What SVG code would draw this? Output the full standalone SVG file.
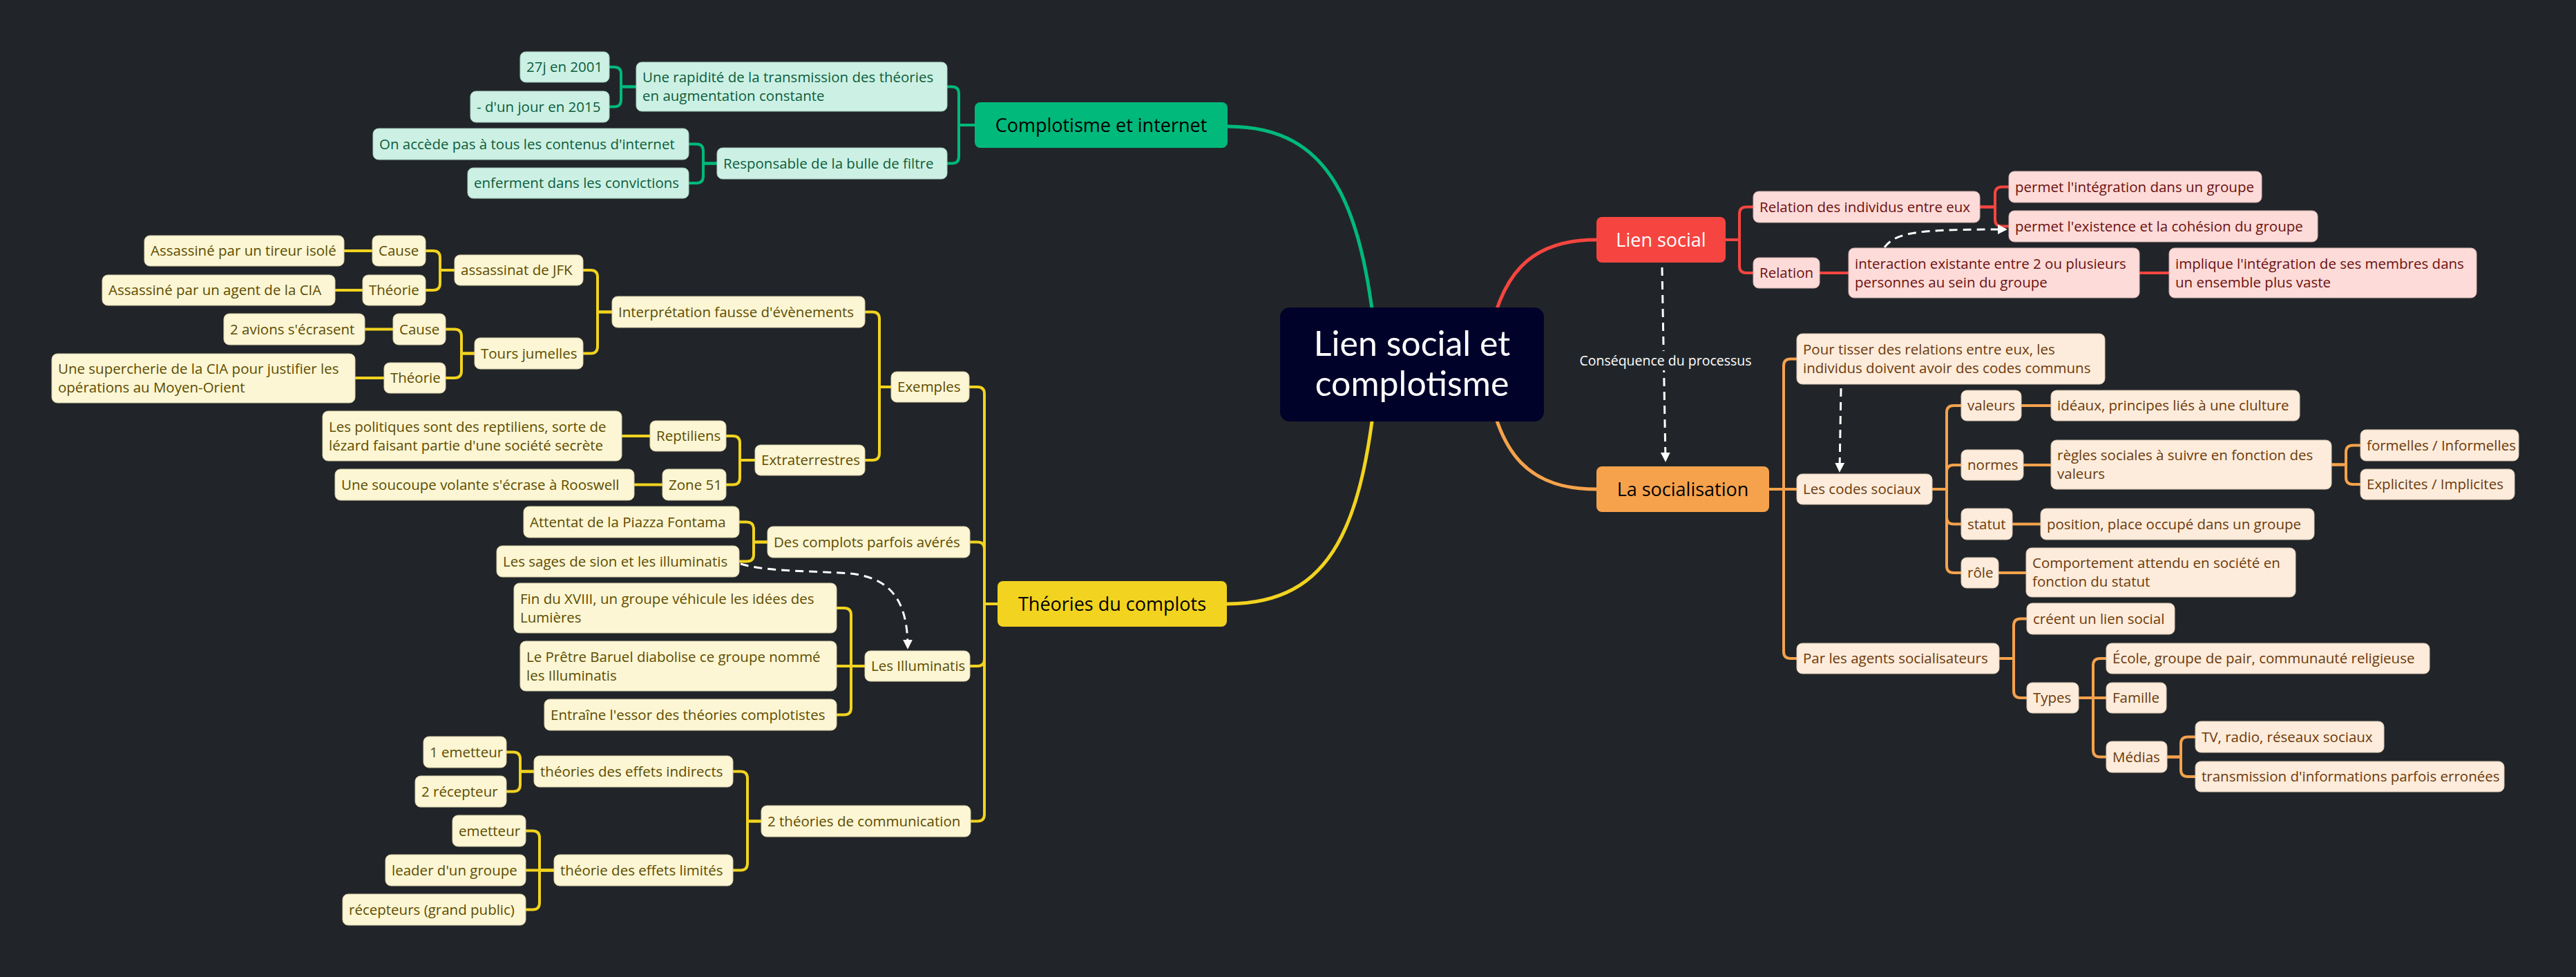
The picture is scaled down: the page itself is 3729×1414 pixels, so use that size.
<svg xmlns="http://www.w3.org/2000/svg" width="3729" height="1414" viewBox="0 0 3729 1414">
<defs>
<style>
.bg{fill:#212529}
text{font-family:"Open Sans",Lato,"Liberation Sans",sans-serif}
.t{font-size:20.5px}
.m{font-size:27px;text-anchor:middle}
.c{fill:none;stroke-width:4;stroke-linejoin:round}
.cg{stroke:#00b97b}.cy{stroke:#f2d31f}.cr{stroke:#f64540}.co{stroke:#f6a24c}
.main{fill:none;stroke-width:5}
.dash{fill:none;stroke:#ffffff;stroke-width:3;stroke-dasharray:12 8}
.ng rect{fill:#ccf1e4;stroke:#a9cdbf;stroke-width:1}
.ng text{fill:#0d5c3c}
.ny rect{fill:#fdf6d4;stroke:#d7cfa9;stroke-width:1}
.ny text{fill:#5c4c00}
.nr rect{fill:#fddbd8;stroke:#d6b3b0;stroke-width:1}
.nr text{fill:#6a1010}
.no rect{fill:#fdecdb;stroke:#d8c4b2;stroke-width:1}
.no text{fill:#6b3a0c}
</style>
<marker id="ah" viewBox="0 0 10 10" refX="8" refY="5" markerWidth="14" markerHeight="14" markerUnits="userSpaceOnUse" orient="auto">
<path d="M0,0 L10,5 L0,10 Z" fill="#ffffff"/>
</marker>
</defs>
<rect class="bg" x="0" y="0" width="3729" height="1414"/>

<g id="connectors">
<path class="main cg" d="M1777 183 C1930 183 1975 300 1995 528"/>
<path class="main cy" d="M1776 874 C1930 874 1975 760 1995 528"/>
<path class="main cr" d="M2311 347 C2220 347 2165 390 2150 528"/>
<path class="main co" d="M2311 708 C2220 708 2165 666 2150 528"/>

<path class="c cg" d="M1411 181 H1388 V135.5 Q1388 125.5 1378 125.5 H1371"/>
<path class="c cg" d="M1411 181 H1388 V226.5 Q1388 236.5 1378 236.5 H1371"/>
<path class="c cg" d="M921 125.5 H899 V107 Q899 97 889 97 H882"/>
<path class="c cg" d="M921 125.5 H899 V144.5 Q899 154.5 889 154.5 H882"/>
<path class="c cg" d="M1038 236.5 H1018 V218.5 Q1018 208.5 1008 208.5 H997"/>
<path class="c cg" d="M1038 236.5 H1018 V255 Q1018 265 1008 265 H997"/>

<path class="c cy" d="M1444 874 H1425 V570 Q1425 560 1415 560 H1403"/>
<path class="c cy" d="M1444 874 H1425 V794.5 Q1425 784.5 1415 784.5 H1404"/>
<path class="c cy" d="M1444 874 H1425 V954 Q1425 964 1415 964 H1404"/>
<path class="c cy" d="M1444 874 H1425 V1178.5 Q1425 1188.5 1415 1188.5 H1405"/>
<path class="c cy" d="M1290 560 H1273 V461.5 Q1273 451.5 1263 451.5 H1252"/>
<path class="c cy" d="M1290 560 H1273 V656 Q1273 666 1263 666 H1252"/>
<path class="c cy" d="M886 451.5 H865 V401 Q865 391 855 391 H844"/>
<path class="c cy" d="M886 451.5 H865 V501.5 Q865 511.5 855 511.5 H844"/>
<path class="c cy" d="M658 391 H637 V373 Q637 363 627 363 H616"/>
<path class="c cy" d="M658 391 H637 V410 Q637 420 627 420 H616"/>
<path class="c cy" d="M539 363 H498"/>
<path class="c cy" d="M525 420 H485"/>
<path class="c cy" d="M687 511.5 H668 V486.5 Q668 476.5 658 476.5 H645"/>
<path class="c cy" d="M687 511.5 H668 V537 Q668 547 658 547 H645"/>
<path class="c cy" d="M569 476.5 H528"/>
<path class="c cy" d="M556 547 H514"/>
<path class="c cy" d="M1093 666 H1071 V641 Q1071 631 1061 631 H1051"/>
<path class="c cy" d="M1093 666 H1071 V691.5 Q1071 701.5 1061 701.5 H1051"/>
<path class="c cy" d="M941 631 H900"/>
<path class="c cy" d="M959 701.5 H918"/>
<path class="c cy" d="M1111 784.5 H1091 V765.5 Q1091 755.5 1081 755.5 H1070"/>
<path class="c cy" d="M1111 784.5 H1091 V802.5 Q1091 812.5 1081 812.5 H1070"/>
<path class="c cy" d="M1252 964 H1232 V890 Q1232 880 1222 880 H1211"/>
<path class="c cy" d="M1252 964 H1211"/>
<path class="c cy" d="M1252 964 H1232 V1024.5 Q1232 1034.5 1222 1034.5 H1211"/>
<path class="c cy" d="M1102 1188.5 H1082 V1126.5 Q1082 1116.5 1072 1116.5 H1061"/>
<path class="c cy" d="M1102 1188.5 H1082 V1249.5 Q1082 1259.5 1072 1259.5 H1061"/>
<path class="c cy" d="M773 1116.5 H753 V1098.5 Q753 1088.5 743 1088.5 H733"/>
<path class="c cy" d="M773 1116.5 H753 V1135.5 Q753 1145.5 743 1145.5 H733"/>
<path class="c cy" d="M802 1259.5 H781 V1212.5 Q781 1202.5 771 1202.5 H761"/>
<path class="c cy" d="M802 1259.5 H761"/>
<path class="c cy" d="M802 1259.5 H781 V1306.5 Q781 1316.5 771 1316.5 H761"/>

<path class="c cr" d="M2498 347 H2518 V309.5 Q2518 299.5 2528 299.5 H2538"/>
<path class="c cr" d="M2498 347 H2518 V385 Q2518 395 2528 395 H2538"/>
<path class="c cr" d="M2866 299.5 H2888 V280.5 Q2888 270.5 2898 270.5 H2908"/>
<path class="c cr" d="M2866 299.5 H2888 V317.5 Q2888 327.5 2898 327.5 H2908"/>
<path class="c cr" d="M2634 395 H2676"/>
<path class="c cr" d="M3097 395 H3140"/>

<path class="c co" d="M2561 708 H2582 V529.5 Q2582 519.5 2592 519.5 H2601"/>
<path class="c co" d="M2561 708 H2601"/>
<path class="c co" d="M2561 708 H2582 V943 Q2582 953 2592 953 H2601"/>
<path class="c co" d="M2797 708 H2818 V597 Q2818 587 2828 587 H2839"/>
<path class="c co" d="M2797 708 H2818 V683 Q2818 673 2828 673 H2839"/>
<path class="c co" d="M2797 708 H2818 V748.5 Q2818 758.5 2828 758.5 H2839"/>
<path class="c co" d="M2797 708 H2818 V819 Q2818 829 2828 829 H2839"/>
<path class="c co" d="M2926 587 H2969"/>
<path class="c co" d="M2929 673 H2969"/>
<path class="c co" d="M3375 672.5 H3396 V654.5 Q3396 644.5 3406 644.5 H3417"/>
<path class="c co" d="M3375 672.5 H3396 V691 Q3396 701 3406 701 H3417"/>
<path class="c co" d="M2913 758.5 H2954"/>
<path class="c co" d="M2893 829 H2933"/>
<path class="c co" d="M2894 953 H2915 V905.5 Q2915 895.5 2925 895.5 H2934"/>
<path class="c co" d="M2894 953 H2915 V1000 Q2915 1010 2925 1010 H2934"/>
<path class="c co" d="M3009 1010 H3030 V963 Q3030 953 3040 953 H3049"/>
<path class="c co" d="M3009 1010 H3049"/>
<path class="c co" d="M3009 1010 H3030 V1085.5 Q3030 1095.5 3040 1095.5 H3049"/>
<path class="c co" d="M3137 1095.5 H3157 V1076.5 Q3157 1066.5 3167 1066.5 H3178"/>
<path class="c co" d="M3137 1095.5 H3157 V1114 Q3157 1124 3167 1124 H3178"/>

<path class="dash" d="M2406 387 L2411 666" marker-end="url(#ah)"/>
<path class="dash" d="M1072 816 C1110 828 1180 826 1230 830 C1290 836 1314 870 1314 937" marker-end="url(#ah)"/>
<path class="dash" d="M2728 358 C2745 335 2780 332 2903 332" marker-end="url(#ah)"/>
<path class="dash" d="M2665 562 L2663 681" marker-end="url(#ah)"/>
<g id="label-consequence">
<rect class="bg" x="2284" y="508" width="254" height="28"/>
<text x="2411" y="529" font-size="19.5" fill="#ffffff" text-anchor="middle">Conséquence du processus</text>
</g>
</g>

<g id="center">
<rect x="1853" y="445" width="382" height="165" rx="14" fill="#00022a"/>
<text x="2044" y="515" font-size="50" fill="#ffffff" text-anchor="middle" style="font-family:Lato,'Open Sans',sans-serif">Lien social et</text>
<text x="2044" y="573" font-size="50" fill="#ffffff" text-anchor="middle" style="font-family:Lato,'Open Sans',sans-serif">complotisme</text>
</g>

<g id="g1"><rect x="1411" y="148" width="366" height="66" rx="8" fill="#00b97b"/><text class="m" x="1594" y="190.5" fill="#000">Complotisme et internet</text></g>
<g class="ng">
<g id="g2"><rect x="921" y="90" width="450" height="71" rx="8"/><text class="t" x="930" y="119">Une rapidité de la transmission des théories<tspan x="930" y="146">en augmentation constante</tspan></text></g>
<g id="g3"><rect x="1038" y="214" width="333" height="45" rx="8"/><text class="t" x="1047" y="243.5">Responsable de la bulle de filtre</text></g>
<g id="g4"><rect x="753" y="75" width="129" height="44" rx="8"/><text class="t" x="762" y="104">27j en 2001</text></g>
<g id="g5"><rect x="681" y="132" width="201" height="45" rx="8"/><text class="t" x="690" y="161.5">- d'un jour en 2015</text></g>
<g id="g6"><rect x="540" y="186" width="457" height="45" rx="8"/><text class="t" x="549" y="215.5">On accède pas à tous les contenus d'internet</text></g>
<g id="g7"><rect x="677" y="243" width="320" height="44" rx="8"/><text class="t" x="686" y="272">enferment dans les convictions</text></g>
</g>

<g id="y1"><rect x="1444" y="841" width="332" height="66" rx="8" fill="#f2d31f"/><text class="m" x="1610" y="883.5" fill="#000">Théories du complots</text></g>
<g class="ny">
<g id="y2"><rect x="1290" y="538" width="113" height="44" rx="8"/><text class="t" x="1299" y="567">Exemples</text></g>
<g id="y3"><rect x="886" y="429" width="366" height="45" rx="8"/><text class="t" x="895" y="458.5">Interprétation fausse d'évènements</text></g>
<g id="y4"><rect x="1093" y="644" width="159" height="44" rx="8"/><text class="t" x="1102" y="673">Extraterrestres</text></g>
<g id="y5"><rect x="658" y="369" width="186" height="44" rx="8"/><text class="t" x="667" y="398">assassinat de JFK</text></g>
<g id="y6"><rect x="687" y="489" width="157" height="45" rx="8"/><text class="t" x="696" y="518.5">Tours jumelles</text></g>
<g id="y7"><rect x="539" y="341" width="77" height="44" rx="8"/><text class="t" x="548" y="370">Cause</text></g>
<g id="y8"><rect x="525" y="398" width="91" height="44" rx="8"/><text class="t" x="534" y="427">Théorie</text></g>
<g id="y9"><rect x="209" y="341" width="289" height="44" rx="8"/><text class="t" x="218" y="370">Assassiné par un tireur isolé</text></g>
<g id="y10"><rect x="148" y="398" width="337" height="44" rx="8"/><text class="t" x="157" y="427">Assassiné par un agent de la CIA</text></g>
<g id="y11"><rect x="569" y="454" width="76" height="45" rx="8"/><text class="t" x="578" y="483.5">Cause</text></g>
<g id="y12"><rect x="556" y="525" width="89" height="44" rx="8"/><text class="t" x="565" y="554">Théorie</text></g>
<g id="y13"><rect x="324" y="454" width="204" height="45" rx="8"/><text class="t" x="333" y="483.5">2 avions s'écrasent</text></g>
<g id="y14"><rect x="75" y="512" width="439" height="71" rx="8"/><text class="t" x="84" y="541">Une supercherie de la CIA pour justifier les<tspan x="84" y="568">opérations au Moyen-Orient</tspan></text></g>
<g id="y15"><rect x="941" y="609" width="110" height="44" rx="8"/><text class="t" x="950" y="638">Reptiliens</text></g>
<g id="y16"><rect x="959" y="679" width="92" height="45" rx="8"/><text class="t" x="968" y="708.5">Zone 51</text></g>
<g id="y17"><rect x="467" y="595" width="433" height="72" rx="8"/><text class="t" x="476" y="624.5">Les politiques sont des reptiliens, sorte de<tspan x="476" y="651.5">lézard faisant partie d'une société secrète</tspan></text></g>
<g id="y18"><rect x="485" y="679" width="433" height="45" rx="8"/><text class="t" x="494" y="708.5">Une soucoupe volante s'écrase à Rooswell</text></g>
<g id="y19"><rect x="1111" y="762" width="293" height="45" rx="8"/><text class="t" x="1120" y="791.5">Des complots parfois avérés</text></g>
<g id="y20"><rect x="758" y="733" width="312" height="45" rx="8"/><text class="t" x="767" y="762.5">Attentat de la Piazza Fontama</text></g>
<g id="y21"><rect x="719" y="790" width="351" height="45" rx="8"/><text class="t" x="728" y="819.5">Les sages de sion et les illuminatis</text></g>
<g id="y22"><rect x="1252" y="942" width="152" height="44" rx="8"/><text class="t" x="1261" y="971">Les Illuminatis</text></g>
<g id="y23"><rect x="744" y="844" width="467" height="72" rx="8"/><text class="t" x="753" y="873.5">Fin du XVIII, un groupe véhicule les idées des<tspan x="753" y="900.5">Lumières</tspan></text></g>
<g id="y24"><rect x="753" y="928" width="458" height="72" rx="8"/><text class="t" x="762" y="957.5">Le Prêtre Baruel diabolise ce groupe nommé<tspan x="762" y="984.5">les Illuminatis</tspan></text></g>
<g id="y25"><rect x="788" y="1012" width="423" height="45" rx="8"/><text class="t" x="797" y="1041.5">Entraîne l'essor des théories complotistes</text></g>
<g id="y26"><rect x="1102" y="1166" width="303" height="45" rx="8"/><text class="t" x="1111" y="1195.5">2 théories de communication</text></g>
<g id="y27"><rect x="773" y="1094" width="288" height="45" rx="8"/><text class="t" x="782" y="1123.5">théories des effets indirects</text></g>
<g id="y28"><rect x="802" y="1237" width="259" height="45" rx="8"/><text class="t" x="811" y="1266.5">théorie des effets limités</text></g>
<g id="y29"><rect x="613" y="1066" width="120" height="45" rx="8"/><text class="t" x="622" y="1095.5">1 emetteur</text></g>
<g id="y30"><rect x="601" y="1123" width="132" height="45" rx="8"/><text class="t" x="610" y="1152.5">2 récepteur</text></g>
<g id="y31"><rect x="655" y="1180" width="106" height="45" rx="8"/><text class="t" x="664" y="1209.5">emetteur</text></g>
<g id="y32"><rect x="558" y="1237" width="203" height="45" rx="8"/><text class="t" x="567" y="1266.5">leader d'un groupe</text></g>
<g id="y33"><rect x="496" y="1294" width="265" height="45" rx="8"/><text class="t" x="505" y="1323.5">récepteurs (grand public)</text></g>
</g>

<g id="r1"><rect x="2311" y="314" width="187" height="66" rx="8" fill="#f64540"/><text class="m" x="2404.5" y="356.5" fill="#ffffff">Lien social</text></g>
<g class="nr">
<g id="r2"><rect x="2538" y="277" width="328" height="45" rx="8"/><text class="t" x="2547" y="306.5">Relation des individus entre eux</text></g>
<g id="r3"><rect x="2538" y="373" width="96" height="44" rx="8"/><text class="t" x="2547" y="402">Relation</text></g>
<g id="r4"><rect x="2908" y="248" width="366" height="45" rx="8"/><text class="t" x="2917" y="277.5">permet l'intégration dans un groupe</text></g>
<g id="r5"><rect x="2908" y="305" width="447" height="45" rx="8"/><text class="t" x="2917" y="334.5">permet l'existence et la cohésion du groupe</text></g>
<g id="r6"><rect x="2676" y="359" width="421" height="72" rx="8"/><text class="t" x="2685" y="388.5">interaction existante entre 2 ou plusieurs<tspan x="2685" y="415.5">personnes au sein du groupe</tspan></text></g>
<g id="r7"><rect x="3140" y="359" width="445" height="72" rx="8"/><text class="t" x="3149" y="388.5">implique l'intégration de ses membres dans<tspan x="3149" y="415.5">un ensemble plus vaste</tspan></text></g>
</g>

<g id="o1"><rect x="2311" y="675" width="250" height="66" rx="8" fill="#f6a24c"/><text class="m" x="2436" y="717.5" fill="#000">La socialisation</text></g>
<g class="no">
<g id="o2"><rect x="2601" y="483" width="446" height="73" rx="8"/><text class="t" x="2610" y="513">Pour tisser des relations entre eux, les<tspan x="2610" y="540">individus doivent avoir des codes communs</tspan></text></g>
<g id="o3"><rect x="2601" y="686" width="196" height="44" rx="8"/><text class="t" x="2610" y="715">Les codes sociaux</text></g>
<g id="o4"><rect x="2601" y="931" width="293" height="44" rx="8"/><text class="t" x="2610" y="960">Par les agents socialisateurs</text></g>
<g id="o5"><rect x="2839" y="565" width="87" height="44" rx="8"/><text class="t" x="2848" y="594">valeurs</text></g>
<g id="o6"><rect x="2839" y="651" width="90" height="44" rx="8"/><text class="t" x="2848" y="680">normes</text></g>
<g id="o7"><rect x="2839" y="736" width="74" height="45" rx="8"/><text class="t" x="2848" y="765.5">statut</text></g>
<g id="o8"><rect x="2839" y="807" width="54" height="44" rx="8"/><text class="t" x="2848" y="836">rôle</text></g>
<g id="o9"><rect x="2969" y="565" width="360" height="44" rx="8"/><text class="t" x="2978" y="594">idéaux, principes liés à une clulture</text></g>
<g id="o10"><rect x="2969" y="637" width="406" height="71" rx="8"/><text class="t" x="2978" y="666">règles sociales à suivre en fonction des<tspan x="2978" y="693">valeurs</tspan></text></g>
<g id="o11"><rect x="3417" y="622" width="229" height="45" rx="8"/><text class="t" x="3426" y="651.5">formelles / Informelles</text></g>
<g id="o12"><rect x="3417" y="679" width="223" height="44" rx="8"/><text class="t" x="3426" y="708">Explicites / Implicites</text></g>
<g id="o13"><rect x="2954" y="736" width="396" height="45" rx="8"/><text class="t" x="2963" y="765.5">position, place occupé dans un groupe</text></g>
<g id="o14"><rect x="2933" y="793" width="390" height="71" rx="8"/><text class="t" x="2942" y="822">Comportement attendu en société en<tspan x="2942" y="849">fonction du statut</tspan></text></g>
<g id="o15"><rect x="2934" y="873" width="214" height="45" rx="8"/><text class="t" x="2943" y="902.5">créent un lien social</text></g>
<g id="o16"><rect x="2934" y="988" width="75" height="44" rx="8"/><text class="t" x="2943" y="1017">Types</text></g>
<g id="o17"><rect x="3049" y="931" width="468" height="44" rx="8"/><text class="t" x="3058" y="960">École, groupe de pair, communauté religieuse</text></g>
<g id="o18"><rect x="3049" y="988" width="87" height="44" rx="8"/><text class="t" x="3058" y="1017">Famille</text></g>
<g id="o19"><rect x="3049" y="1073" width="88" height="45" rx="8"/><text class="t" x="3058" y="1102.5">Médias</text></g>
<g id="o20"><rect x="3178" y="1044" width="273" height="45" rx="8"/><text class="t" x="3187" y="1073.5">TV, radio, réseaux sociaux</text></g>
<g id="o21"><rect x="3178" y="1102" width="447" height="44" rx="8"/><text class="t" x="3187" y="1131">transmission d'informations parfois erronées</text></g>
</g>
</svg>
